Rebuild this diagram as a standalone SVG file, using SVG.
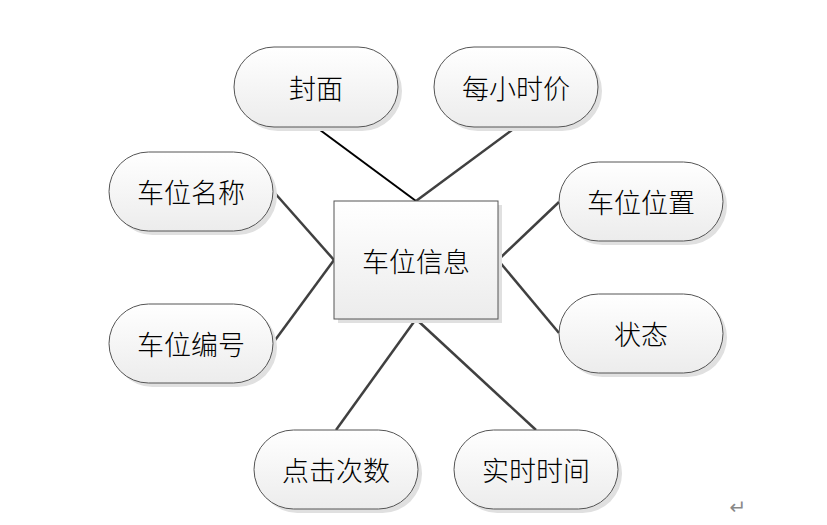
<svg xmlns="http://www.w3.org/2000/svg" width="827" height="525" viewBox="0 0 827 525">
<defs>
<linearGradient id="g" x1="0" y1="0" x2="0" y2="1">
<stop offset="0" stop-color="#ffffff"/>
<stop offset="1" stop-color="#ececec"/>
</linearGradient>
<style>
.sh{fill:#e0e0e0}
.n{fill:url(#g);stroke:#555;stroke-width:1}
.t{font-family:"Noto Sans CJK SC","Noto Sans",sans-serif;font-size:27px;font-weight:300;fill:#000;text-anchor:middle;dominant-baseline:central}
.c{stroke:#404040;stroke-width:2.5;fill:none}
</style>
</defs>
<rect width="827" height="525" fill="#fff"/>
<g id="connectors">
<line class="c" x1="316" y1="127" x2="416" y2="201" style="stroke:#000;stroke-width:2"/>
<line class="c" x1="516" y1="127" x2="416" y2="201"/>
<line class="c" x1="273" y1="191" x2="334" y2="260"/>
<line class="c" x1="273" y1="343" x2="334" y2="260"/>
<line class="c" x1="559" y1="202" x2="498" y2="260"/>
<line class="c" x1="559" y1="333" x2="498" y2="260"/>
<line class="c" x1="336" y1="430" x2="416" y2="319"/>
<line class="c" x1="536" y1="430" x2="416" y2="319"/>
</g>
<g id="center">
<rect class="sh" x="338" y="205" width="164" height="118"/>
<rect class="n" x="334" y="201" width="164" height="118"/>
<text class="t" x="416" y="260">车位信息</text>
</g>
<g id="fengmian">
<rect class="sh" x="238" y="51" width="164" height="80" rx="40"/>
<rect class="n" x="234" y="47" width="164" height="80" rx="40"/>
<text class="t" x="316" y="87">封面</text>
</g>
<g id="meixiaoshijia">
<rect class="sh" x="438" y="51" width="164" height="80" rx="40"/>
<rect class="n" x="434" y="47" width="164" height="80" rx="40"/>
<text class="t" x="516" y="87">每小时价</text>
</g>
<g id="cheweimingcheng">
<rect class="sh" x="113" y="156" width="164" height="79" rx="39.5"/>
<rect class="n" x="109" y="152" width="164" height="79" rx="39.5"/>
<text class="t" x="191" y="191">车位名称</text>
</g>
<g id="cheweiweizhi">
<rect class="sh" x="563" y="166" width="164" height="79" rx="39.5"/>
<rect class="n" x="559" y="162" width="164" height="79" rx="39.5"/>
<text class="t" x="641" y="201">车位位置</text>
</g>
<g id="cheweibianhao">
<rect class="sh" x="113" y="308" width="164" height="79" rx="39.5"/>
<rect class="n" x="109" y="304" width="164" height="79" rx="39.5"/>
<text class="t" x="191" y="343">车位编号</text>
</g>
<g id="zhuangtai">
<rect class="sh" x="563" y="298" width="164" height="79" rx="39.5"/>
<rect class="n" x="559" y="294" width="164" height="79" rx="39.5"/>
<text class="t" x="641" y="333">状态</text>
</g>
<g id="dianjicishu">
<rect class="sh" x="258" y="434" width="164" height="79" rx="39.5"/>
<rect class="n" x="254" y="430" width="164" height="79" rx="39.5"/>
<text class="t" x="336" y="469">点击次数</text>
</g>
<g id="shishishijian">
<rect class="sh" x="458" y="434" width="164" height="79" rx="39.5"/>
<rect class="n" x="454" y="430" width="164" height="79" rx="39.5"/>
<text class="t" x="536" y="469">实时时间</text>
</g>
<text x="738" y="507" font-family="DejaVu Sans, sans-serif" font-size="20" fill="#888" text-anchor="middle" dominant-baseline="central">↵</text>
</svg>
